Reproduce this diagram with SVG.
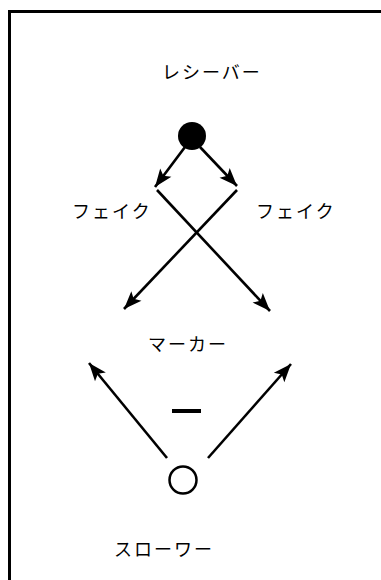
<svg xmlns="http://www.w3.org/2000/svg" width="381" height="580" viewBox="0 0 381 580">
  <style>
    .lbl { font-family: "Noto Sans CJK JP", "Noto Sans", sans-serif; font-size: 18px; letter-spacing: 2px; fill: #000; }
    .conn { stroke: #000; stroke-width: 2.6; fill: none; marker-end: url(#arrow); }
  </style>
  <defs>
    <marker id="arrow" markerUnits="userSpaceOnUse" markerWidth="24" markerHeight="20" viewBox="-2 -10 22 20" refX="17" refY="0" orient="auto">
      <path d="M-1,-7 L17,0 L-1,7 L3,0 z" fill="#000"/>
    </marker>
  </defs>
  <rect width="381" height="580" fill="#fff"/>
  <rect id="frame" x="9.5" y="11.5" width="400" height="600" fill="none" stroke="#000" stroke-width="3"/>

  <g id="receiver">
    <text class="lbl" x="162" y="79">レシーバー</text>
    <circle cx="192" cy="136" r="14" fill="#000"/>
  </g>
  <g id="fake-left">
    <text class="lbl" x="72" y="218">フェイク</text>
  </g>
  <g id="fake-right">
    <text class="lbl" x="256" y="218">フェイク</text>
  </g>
  <g id="marker">
    <text class="lbl" x="148" y="351">マーカー</text>
    <rect x="172" y="409" width="29" height="4" fill="#000"/>
  </g>
  <g id="thrower">
    <circle cx="183" cy="480" r="13.5" fill="none" stroke="#000" stroke-width="2.5"/>
    <text class="lbl" x="114" y="556">スローワー</text>
  </g>

  <g id="connectors">
    <line class="conn" x1="185" y1="147" x2="155" y2="187"/>
    <line class="conn" x1="200" y1="147" x2="237" y2="186"/>
    <line class="conn" x1="157" y1="190" x2="270" y2="311"/>
    <line class="conn" x1="237" y1="190" x2="124" y2="309"/>
    <line class="conn" x1="167" y1="458" x2="89" y2="363"/>
    <line class="conn" x1="208" y1="458" x2="291" y2="364"/>
  </g>
</svg>
